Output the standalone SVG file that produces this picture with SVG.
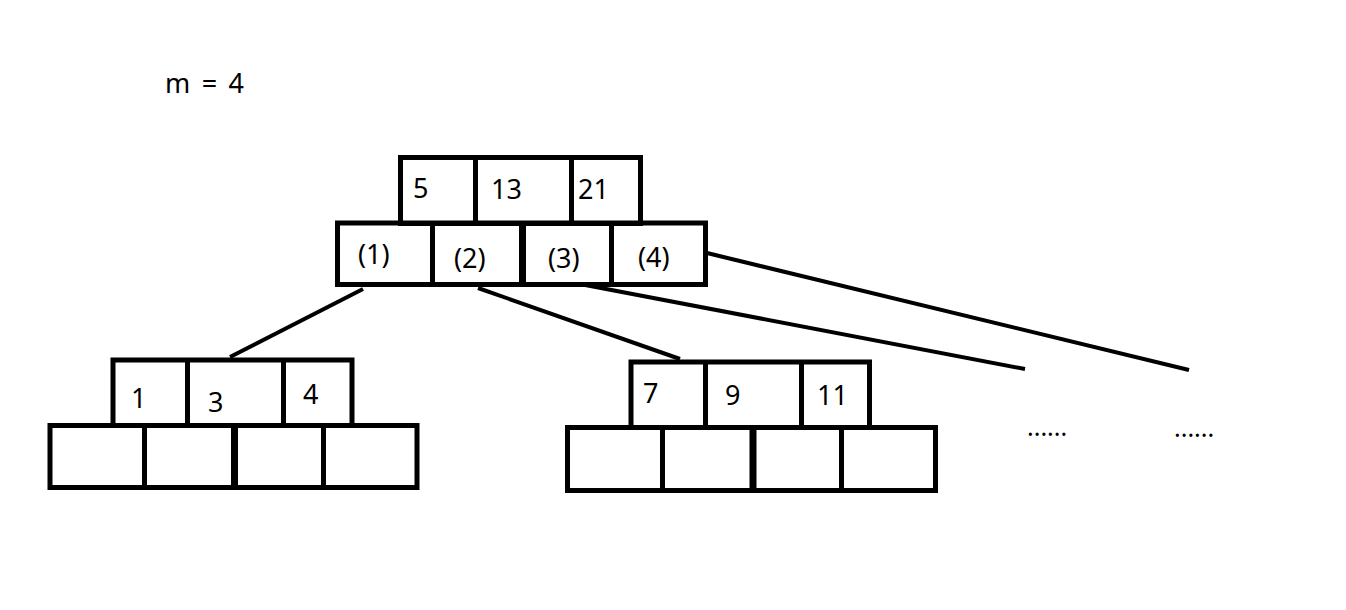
<svg xmlns="http://www.w3.org/2000/svg" width="1346" height="610" viewBox="0 0 1346 610">
<style>
.box{fill:none;stroke:#000;stroke-width:5}
.div{stroke:#000;stroke-width:5}
.thick{stroke:#000;stroke-width:7}
.t{font-family:"Noto Sans","Liberation Sans",sans-serif;font-size:27px;fill:#000}
.d{font-family:"Noto Sans","Liberation Sans",sans-serif;font-size:25px;fill:#000}
.c{stroke:#000;stroke-width:4;fill:none;stroke-linecap:butt}
</style>
<rect width="1346" height="610" fill="#fff"/>
<text class="t" x="165" y="93" textLength="79" lengthAdjust="spacing">m = 4</text>
<g id="connectors">
<line class="c" x1="363" y1="289" x2="230" y2="357"/>
<line class="c" x1="478" y1="288" x2="680" y2="359"/>
<line class="c" x1="580" y1="284" x2="1025" y2="369"/>
<line class="c" x1="707" y1="253" x2="1189" y2="370"/>
</g>
<g id="root">
<rect class="box" x="400.5" y="157.5" width="240" height="66"/>
<line class="div" x1="475.5" y1="157.5" x2="475.5" y2="223.5"/>
<line class="div" x1="571.5" y1="157.5" x2="571.5" y2="223.5"/>
<rect class="box" x="337.5" y="223" width="368" height="61.5"/>
<line class="div" x1="432.5" y1="223" x2="432.5" y2="284.5"/>
<line class="thick" x1="522.5" y1="223" x2="522.5" y2="284.5"/>
<line class="div" x1="611.5" y1="223" x2="611.5" y2="284.5"/>
<text class="t" x="413" y="198">5</text>
<text class="t" x="491" y="199">13</text>
<text class="t" x="578" y="199">21</text>
<text class="t" x="358" y="264">(1)</text>
<text class="t" x="454" y="268">(2)</text>
<text class="t" x="548" y="268">(3)</text>
<text class="t" x="638" y="267">(4)</text>
</g>
<g id="left-child">
<rect class="box" x="113" y="360" width="239" height="65.5"/>
<line class="div" x1="187.5" y1="360" x2="187.5" y2="425.5"/>
<line class="div" x1="283.5" y1="360" x2="283.5" y2="425.5"/>
<rect class="box" x="50" y="425.5" width="367" height="62"/>
<line class="div" x1="144.5" y1="425.5" x2="144.5" y2="487.5"/>
<line class="thick" x1="234.5" y1="425.5" x2="234.5" y2="487.5"/>
<line class="div" x1="323.5" y1="425.5" x2="323.5" y2="487.5"/>
<text class="t" x="131" y="408">1</text>
<text class="t" x="208" y="412">3</text>
<text class="t" x="303" y="404">4</text>
</g>
<g id="right-child">
<rect class="box" x="631" y="362" width="238.5" height="65.5"/>
<line class="div" x1="705.5" y1="362" x2="705.5" y2="427.5"/>
<line class="div" x1="801.5" y1="362" x2="801.5" y2="427.5"/>
<rect class="box" x="567.5" y="427.5" width="368" height="63"/>
<line class="div" x1="662.5" y1="427.5" x2="662.5" y2="490.5"/>
<line class="thick" x1="753" y1="427.5" x2="753" y2="490.5"/>
<line class="div" x1="841.5" y1="427.5" x2="841.5" y2="490.5"/>
<text class="t" x="643" y="403">7</text>
<text class="t" x="725" y="405">9</text>
<text class="t" x="817" y="405">11</text>
</g>
<g id="more-1"><text class="d" x="1027" y="436">......</text></g>
<g id="more-2"><text class="d" x="1174" y="437">......</text></g>
</svg>
